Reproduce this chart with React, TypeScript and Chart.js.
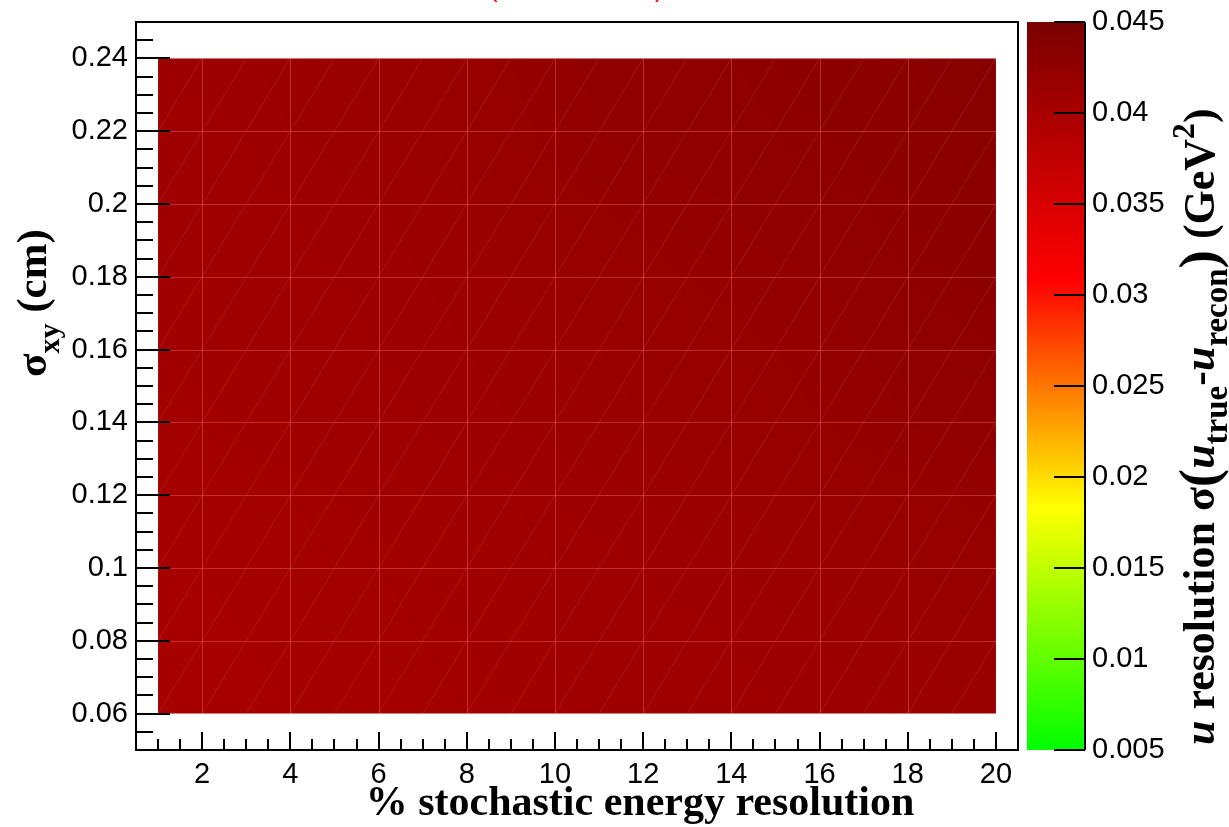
import React, { useEffect, useRef } from "react";
import { Chart, registerables } from "chart.js";

Chart.register(...registerables);

// ---------- data ----------
const xValues = [1, 2, 3, 4, 5, 6, 7, 8, 9, 10, 11, 12, 13, 14, 15, 16, 17, 18, 19, 20];
const yValues = [0.06, 0.08, 0.1, 0.12, 0.14, 0.16, 0.18, 0.2, 0.22, 0.24];

const zRow006 = [0.0401, 0.0401, 0.0402, 0.0403, 0.0404, 0.0404, 0.0405, 0.0406, 0.0407, 0.0408, 0.0409, 0.0409, 0.041, 0.0411, 0.0412, 0.0413, 0.0413, 0.0414, 0.0415, 0.0416];
const zRow008 = [0.0402, 0.0402, 0.0403, 0.0404, 0.0405, 0.0405, 0.0406, 0.0407, 0.0408, 0.0409, 0.041, 0.041, 0.0411, 0.0412, 0.0413, 0.0414, 0.0415, 0.0416, 0.0417, 0.0418];
const zRow010 = [0.0403, 0.0403, 0.0404, 0.0405, 0.0406, 0.0406, 0.0407, 0.0408, 0.0409, 0.041, 0.0411, 0.0412, 0.0413, 0.0414, 0.0415, 0.0416, 0.0417, 0.0418, 0.0419, 0.042];
const zRow012 = [0.0404, 0.0404, 0.0405, 0.0406, 0.0407, 0.0408, 0.0409, 0.041, 0.0411, 0.0412, 0.0413, 0.0414, 0.0415, 0.0416, 0.0417, 0.0418, 0.0419, 0.042, 0.0421, 0.0422];
const zRow014 = [0.0405, 0.0406, 0.0408, 0.0409, 0.041, 0.0411, 0.0412, 0.0413, 0.0414, 0.0415, 0.0416, 0.0417, 0.0418, 0.0419, 0.042, 0.0421, 0.0422, 0.0424, 0.0425, 0.0426];
const zRow016 = [0.0407, 0.0408, 0.0409, 0.041, 0.0411, 0.0412, 0.0413, 0.0414, 0.0415, 0.0416, 0.0417, 0.0418, 0.0419, 0.042, 0.0421, 0.0422, 0.0424, 0.0426, 0.0427, 0.0428];
const zRow018 = [0.0408, 0.0409, 0.041, 0.0411, 0.0412, 0.0413, 0.0414, 0.0415, 0.0416, 0.0418, 0.0419, 0.042, 0.0421, 0.0422, 0.0423, 0.0424, 0.0426, 0.0428, 0.0429, 0.043];
const zRow020 = [0.0409, 0.041, 0.0411, 0.0412, 0.0413, 0.0414, 0.0415, 0.0417, 0.0419, 0.042, 0.0421, 0.0422, 0.0423, 0.0424, 0.0426, 0.0427, 0.0428, 0.0429, 0.0431, 0.0432];
const zRow022 = [0.041, 0.0411, 0.0412, 0.0414, 0.0415, 0.0416, 0.0417, 0.0418, 0.042, 0.0422, 0.0424, 0.0425, 0.0426, 0.0427, 0.0428, 0.0429, 0.043, 0.0431, 0.0432, 0.0434];
const zRow024 = [0.0412, 0.0413, 0.0414, 0.0415, 0.0416, 0.0417, 0.0418, 0.0419, 0.0421, 0.0423, 0.0425, 0.0426, 0.0427, 0.0428, 0.0429, 0.043, 0.0431, 0.0432, 0.0434, 0.0436];
const zRows = [zRow006, zRow008, zRow010, zRow012, zRow014, zRow016, zRow018, zRow020, zRow022, zRow024];

const xTickValues = [2, 4, 6, 8, 10, 12, 14, 16, 18, 20];
const yTickValues = [0.06, 0.08, 0.1, 0.12, 0.14, 0.16, 0.18, 0.2, 0.22, 0.24];
const zTickValues = [0.005, 0.01, 0.015, 0.02, 0.025, 0.03, 0.035, 0.04, 0.045];

const paletteValues = [0.005, 0.0183, 0.0308, 0.045];
const paletteColors = [
  [0, 255, 0],
  [255, 255, 0],
  [255, 0, 0],
  [122, 0, 0],
];

const xTitle = "% stochastic energy resolution";

// ---------- helpers ----------
const SANS = "'Liberation Sans', Arimo, Arial, sans-serif";
const SERIF = "'Liberation Serif', 'Times New Roman', serif";

function colorFor(v: number): number[] {
  if (v <= paletteValues[0]) return paletteColors[0];
  for (let i = 1; i < paletteValues.length; i++) {
    if (v <= paletteValues[i]) {
      const t = (v - paletteValues[i - 1]) / (paletteValues[i] - paletteValues[i - 1]);
      const a = paletteColors[i - 1];
      const b = paletteColors[i];
      return [0, 1, 2].map((k) => Math.round(a[k] + (b[k] - a[k]) * t));
    }
  }
  return paletteColors[paletteColors.length - 1];
}

function fmt(v: any): string {
  return String(parseFloat(Number(v).toFixed(4)));
}

type Seg = { t: string; italic?: boolean; scale?: number; shift?: number };

function drawRich(ctx: CanvasRenderingContext2D, segs: Seg[], x: number, y: number, rot: number, size: number) {
  ctx.save();
  ctx.translate(x, y);
  ctx.rotate(rot);
  ctx.textAlign = "left";
  ctx.textBaseline = "alphabetic";
  ctx.fillStyle = "#000";
  let cx = 0;
  for (const s of segs) {
    const fs = size * (s.scale ?? 1);
    ctx.font = `${s.italic ? "italic " : ""}bold ${fs}px ${SERIF}`;
    ctx.fillText(s.t, cx, (s.shift ?? 0) * size);
    cx += ctx.measureText(s.t).width;
  }
  ctx.restore();
}

const rootPlugin = {
  id: "rootContour",
  beforeDatasetsDraw(chart: any) {
    const { ctx, scales } = chart;
    const xs = scales.x;
    const ys = scales.y;
    const X = (v: number) => xs.getPixelForValue(v);
    const Y = (v: number) => ys.getPixelForValue(v);
    const nx = xValues.length;
    const ny = yValues.length;

    const off = document.createElement("canvas");
    off.width = nx;
    off.height = ny;
    const octx = off.getContext("2d")!;
    const img = octx.createImageData(nx, ny);
    for (let j = 0; j < ny; j++) {
      const row = zRows[j];
      const ir = ny - 1 - j;
      for (let i = 0; i < nx; i++) {
        const c = colorFor(row[i]);
        const idx = (ir * nx + i) * 4;
        img.data[idx] = c[0];
        img.data[idx + 1] = c[1];
        img.data[idx + 2] = c[2];
        img.data[idx + 3] = 255;
      }
    }
    octx.putImageData(img, 0, 0);

    const hx = (xValues[1] - xValues[0]) / 2;
    const hy = (yValues[1] - yValues[0]) / 2;
    const x0 = X(xValues[0]);
    const x1 = X(xValues[nx - 1]);
    const y0 = Y(yValues[ny - 1]);
    const y1 = Y(yValues[0]);

    ctx.save();
    ctx.beginPath();
    ctx.rect(x0, y0, x1 - x0, y1 - y0);
    ctx.clip();
    ctx.imageSmoothingEnabled = true;
    (ctx as any).imageSmoothingQuality = "low";
    const ix0 = X(xValues[0] - hx);
    const ix1 = X(xValues[nx - 1] + hx);
    const iy0 = Y(yValues[ny - 1] + hy);
    const iy1 = Y(yValues[0] - hy);
    ctx.drawImage(off, ix0, iy0, ix1 - ix0, iy1 - iy0);

    // triangulation diagonals
    ctx.strokeStyle = "rgba(235,85,85,0.26)";
    ctx.lineWidth = 1;
    ctx.beginPath();
    for (let i = 0; i < nx - 1; i++) {
      for (let j = 0; j < ny - 1; j++) {
        ctx.moveTo(X(xValues[i]), Y(yValues[j]));
        ctx.lineTo(X(xValues[i + 1]), Y(yValues[j + 1]));
      }
    }
    ctx.stroke();

    // grid lines
    ctx.strokeStyle = "rgba(235,85,85,0.5)";
    ctx.beginPath();
    for (const v of xTickValues) {
      const px = Math.round(X(v)) + 0.5;
      ctx.moveTo(px, y0);
      ctx.lineTo(px, y1);
    }
    for (const v of yTickValues) {
      const py = Math.round(Y(v)) + 0.5;
      ctx.moveTo(x0, py);
      ctx.lineTo(x1, py);
    }
    ctx.stroke();
    ctx.restore();
  },
  afterDraw(chart: any) {
    const { ctx, chartArea: ca, scales } = chart;
    const xs = scales.x;
    const ys = scales.y;
    const zs = scales.z;

    ctx.save();
    // frame
    ctx.strokeStyle = "#000";
    ctx.lineWidth = 2;
    ctx.strokeRect(ca.left, ca.top, ca.right - ca.left, ca.bottom - ca.top);

    // ticks (inside the frame)
    ctx.beginPath();
    for (let k = 0; k <= 40; k++) {
      const v = ys.min + k * 0.005;
      const major = yTickValues.some((t) => Math.abs(t - v) < 1e-6);
      const py = Math.round(ys.getPixelForValue(v));
      if (py <= ca.top + 1 || py >= ca.bottom - 1) continue;
      ctx.moveTo(ca.left, py);
      ctx.lineTo(ca.left + (major ? 34 : 17), py);
    }
    for (let k = 0; k <= 40; k++) {
      const v = xs.min + k * 0.5;
      const major = xTickValues.some((t) => Math.abs(t - v) < 1e-6);
      const px = Math.round(xs.getPixelForValue(v));
      if (px <= ca.left + 1 || px >= ca.right - 1) continue;
      ctx.moveTo(px, ca.bottom);
      ctx.lineTo(px, ca.bottom - (major ? 18 : 11));
    }
    ctx.stroke();

    // colour bar
    const cbL = ca.right + 9;
    const cbR = ca.right + 67;
    const zTop = zs.getPixelForValue(zs.max);
    const zBot = zs.getPixelForValue(zs.min);
    const grad = ctx.createLinearGradient(0, zBot, 0, zTop);
    paletteValues.forEach((v, i) => {
      const c = paletteColors[i];
      grad.addColorStop((v - zs.min) / (zs.max - zs.min), `rgb(${c[0]},${c[1]},${c[2]})`);
    });
    ctx.fillStyle = grad;
    ctx.fillRect(cbL, zTop, cbR - cbL, zBot - zTop);
    ctx.strokeStyle = "#000";
    ctx.lineWidth = 2;
    ctx.beginPath();
    ctx.moveTo(cbR, zTop);
    ctx.lineTo(cbR, zBot);
    for (const v of zTickValues) {
      const py = Math.round(zs.getPixelForValue(v));
      ctx.moveTo(cbR - 31, py);
      ctx.lineTo(cbR, py);
    }
    ctx.stroke();

    // x title
    ctx.fillStyle = "#000";
    ctx.font = `bold 42px ${SERIF}`;
    ctx.textAlign = "center";
    ctx.textBaseline = "alphabetic";
    ctx.fillText(xTitle, 640, 815);

    // y title
    drawRich(
      ctx,
      [{ t: "σ" }, { t: "xy", scale: 0.7, shift: 0.3 }, { t: " (cm)" }],
      46,
      377,
      -Math.PI / 2,
      43
    );

    // colour bar title
    drawRich(
      ctx,
      [
        { t: "u", italic: true },
        { t: " resolution σ" },
        { t: "(", scale: 1.25, shift: 0.06 },
        { t: "u", italic: true },
        { t: "true", scale: 0.75, shift: 0.3 },
        { t: "-" },
        { t: "u", italic: true },
        { t: "recon", scale: 0.75, shift: 0.3 },
        { t: ")", scale: 1.25, shift: 0.06 },
        { t: " (GeV" },
        { t: "2", scale: 0.72, shift: -0.45 },
        { t: ")" },
      ],
      1214,
      745,
      -Math.PI / 2,
      44
    );

    // clipped red title parentheses at the very top
    ctx.fillStyle = "#ff0000";
    ctx.font = `26px ${SANS}`;
    ctx.textAlign = "left";
    ctx.fillText("(", 489, -3);
    ctx.fillText(")", 655, -3);
    ctx.restore();
  },
};

const tickFont = { family: SANS, size: 29 };

function noPad(s: any) {
  s.paddingTop = 0;
  s.paddingBottom = 0;
  s.paddingLeft = 0;
  s.paddingRight = 0;
}

export default function App() {
  const ref = useRef<HTMLCanvasElement | null>(null);
  useEffect(() => {
    if (!ref.current) return;
    const chart = new Chart(ref.current, {
      type: "scatter",
      data: { datasets: [] },
      options: {
        animation: false,
        responsive: false,
        devicePixelRatio: 1,
        layout: { padding: { top: 22, left: 0, right: 0, bottom: 0 } },
        plugins: { legend: { display: false }, tooltip: { enabled: false } },
        scales: {
          x: {
            type: "linear",
            position: "bottom",
            min: 0.5,
            max: 20.5,
            afterBuildTicks: (s: any) => {
              s.ticks = xTickValues.map((v) => ({ value: v }));
            },
            afterFit: (s: any) => {
              s.height = 77;
              noPad(s);
            },
            grid: { display: false, drawTicks: false },
            border: { display: false },
            ticks: {
              autoSkip: false,
              maxRotation: 0,
              padding: 8,
              color: "#000",
              font: tickFont,
              callback: (v: any) => fmt(v),
            },
          },
          y: {
            type: "linear",
            position: "left",
            min: 0.05,
            max: 0.25,
            afterBuildTicks: (s: any) => {
              s.ticks = yTickValues.map((v) => ({ value: v }));
            },
            afterFit: (s: any) => {
              s.width = 136;
              noPad(s);
            },
            grid: { display: false, drawTicks: false },
            border: { display: false },
            ticks: {
              autoSkip: false,
              padding: 8,
              color: "#000",
              font: tickFont,
              callback: (v: any) => fmt(v),
            },
          },
          z: {
            type: "linear",
            axis: "y",
            position: "right",
            min: 0.005,
            max: 0.045,
            afterBuildTicks: (s: any) => {
              s.ticks = zTickValues.map((v) => ({ value: v }));
            },
            afterFit: (s: any) => {
              s.width = 211;
              noPad(s);
            },
            grid: { display: false, drawTicks: false },
            border: { display: false },
            ticks: {
              autoSkip: false,
              padding: 74,
              color: "#000",
              font: tickFont,
              callback: (v: any) => fmt(v),
            },
          },
        },
      } as any,
      plugins: [rootPlugin as any],
    });
    return () => chart.destroy();
  }, []);

  return (
    <div style={{ position: "fixed", left: 0, top: 0, width: 1229, height: 827, background: "#fff" }}>
      <canvas ref={ref} width={1229} height={827} style={{ display: "block" }} />
    </div>
  );
}
